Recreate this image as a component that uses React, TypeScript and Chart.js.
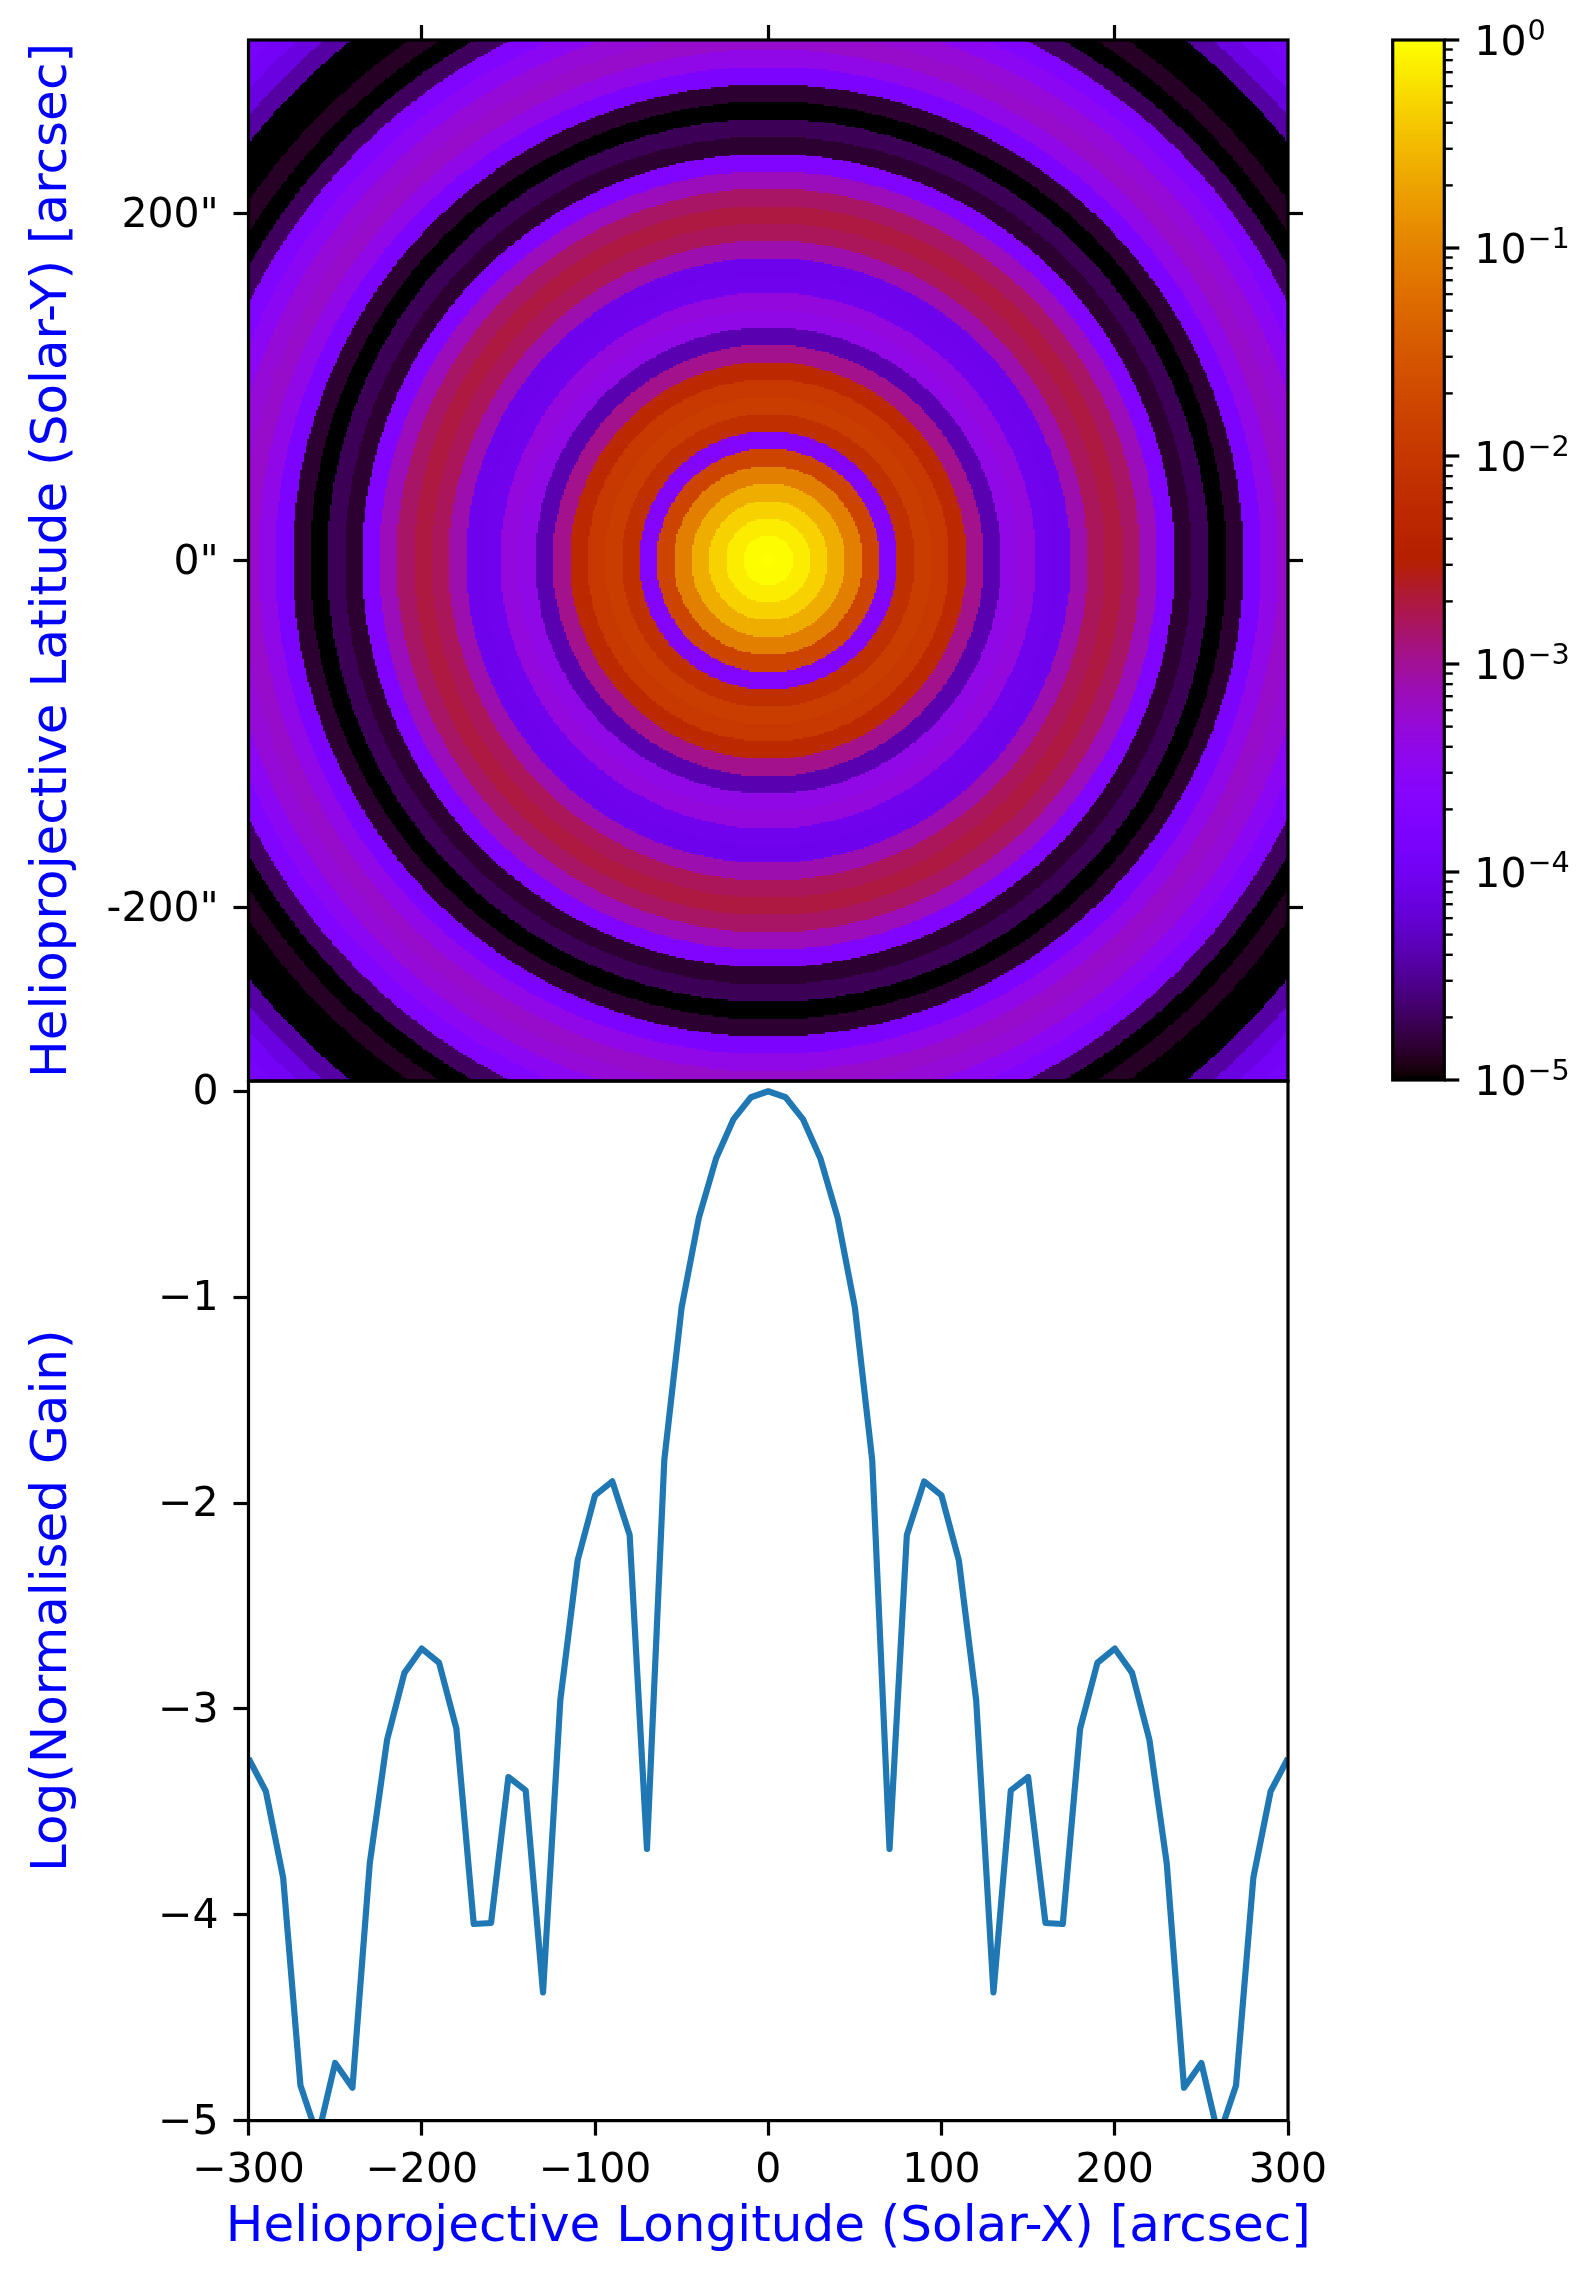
import React, { useEffect, useRef } from "react";
import { Chart, registerables } from "chart.js";

Chart.register(...registerables);

const longitudes = [
  -300, -290, -280, -270, -260, -250, -240, -230, -220, -210, -200, -190, -180, -170, -160, -150, -140, -130, -120, -110,
  -100, -90, -80, -70, -60, -50, -40, -30, -20, -10, 0, 10, 20, 30, 40, 50, 60, 70, 80, 90, 100, 110, 120, 130, 140, 150,
  160, 170, 180, 190, 200, 210, 220, 230, 240, 250, 260, 270, 280, 290, 300,
];
const logGain = [
  -3.24, -3.4, -3.82, -4.83, -5.08, -4.72, -4.84, -3.75, -3.15, -2.825, -2.707, -2.776, -3.096, -4.045, -4.04, -3.331,
  -3.396, -4.377, -2.956, -2.278, -1.963, -1.895, -2.155, -3.68, -1.79, -1.05, -0.612, -0.324, -0.135, -0.029, 0, -0.029,
  -0.135, -0.324, -0.612, -1.05, -1.79, -3.68, -2.155, -1.895, -1.963, -2.278, -2.956, -4.377, -3.396, -3.331, -4.04,
  -4.045, -3.096, -2.776, -2.707, -2.825, -3.15, -3.75, -4.84, -4.72, -5.08, -4.83, -3.82, -3.4, -3.24,
];
const logGainBeyond = [-3.3, -3.5, -3.75, -4.695, -5.1, -4.865, -5.2, -5.3, -4.44, -4.135, -3.95, -3.9, -3.9];
const ringStep = 10;

const mapTicks = [-200, 0, 200];
const mapTickLabels = ['-200"', '0"', '200"'];
const lowerXTicks = [-300, -200, -100, 0, 100, 200, 300];
const lowerYTicks = [-5, -4, -3, -2, -1, 0];
const barExponents = [-5, -4, -3, -2, -1, 0];
const barMinorFactors = [2, 3, 4, 5, 6, 7, 8, 9];

const xTitle = "Helioprojective Longitude (Solar-X) [arcsec]";
const yTitleMap = "Helioprojective Latitude (Solar-Y) [arcsec]";
const yTitleProfile = "Log(Normalised Gain)";

const W = 1590;
const H = 2269;
const FONT = "'DejaVu Sans'";
const TICK_FONT = 41;
const SUP_FONT = 28.7;
const TITLE_FONT = 50;
const LW = 3.2;
const TICK_LEN = 15;
const BLUE = "#0000ff";

const LEFT = 248.5;
const RIGHT = 1288;
const TOP = 40;
const MID = 1081;
const BOTTOM = 2120.6;
const BAR_LEFT = 1392.7;
const BAR_RIGHT = 1444.3;
const BAR_BOTTOM = 1080;
const X_TITLE_Y = 2228;

function gnuplot(t: number): [number, number, number] {
  const x = Math.max(0, Math.min(255, Math.floor(t * 256))) / 255;
  const r = Math.sqrt(x);
  const g = x * x * x;
  const b = Math.max(0, Math.sin(2 * Math.PI * x));
  return [Math.round(r * 255), Math.round(g * 255), Math.round(b * 255)];
}
const cssColor = (t: number) => {
  const [r, g, b] = gnuplot(t);
  return `rgb(${r},${g},${b})`;
};

const radialProfile = [...logGain.slice(30), ...logGainBeyond];
const ringColors = radialProfile.map((v) => cssColor((v + 5) / 5));

const frame = {
  id: "frame",
  afterDraw(chart: any) {
    const { left, right, top, bottom } = chart.chartArea;
    const c = chart.ctx;
    c.save();
    c.strokeStyle = "#000";
    c.lineWidth = LW;
    c.strokeRect(left, top, right - left, bottom - top);
    c.restore();
  },
};

// The axis title option would squeeze this text to the axis width, but it is wider than the axis.
const wideXTitle = {
  id: "wideXTitle",
  afterDraw(chart: any) {
    const { left, right } = chart.chartArea;
    const c = chart.ctx;
    c.save();
    c.fillStyle = BLUE;
    c.font = `${TITLE_FONT}px ${FONT}`;
    c.textAlign = "center";
    c.textBaseline = "middle";
    c.fillText(xTitle, (left + right) / 2, X_TITLE_Y);
    c.restore();
  },
};

// Nudges the left axis labels down a little, as matplotlib centres them lower than a canvas does.
const labelNudge = {
  id: "labelNudge",
  beforeDraw(chart: any) {
    const items = chart.scales.y.getLabelItems();
    for (const it of items) {
      if (!it.nudged) {
        it.textOffset += 2.5;
        it.nudged = true;
      }
    }
  },
};

const heatMap = {
  id: "heatMap",
  beforeDatasetsDraw(chart: any) {
    const c = chart.ctx;
    const sx = chart.scales.x;
    const sy = chart.scales.y;
    c.save();
    const { left, right, top, bottom } = chart.chartArea;
    c.beginPath();
    c.rect(left, top, right - left, bottom - top);
    c.clip();
    const cell = 1;
    for (let v = -300; v < 300; v += cell) {
      const py0 = Math.round(sy.getPixelForValue(v + cell));
      const py1 = Math.round(sy.getPixelForValue(v));
      let runStart = -300;
      let runBin = -1;
      for (let u = -300; u <= 300; u += cell) {
        const xc = u + cell / 2;
        const yc = v + cell / 2;
        const bin = u === 300 ? -2 : Math.round((Math.hypot(xc, yc) + 0.5) / ringStep);
        if (bin !== runBin) {
          if (runBin >= 0) {
            const px0 = Math.round(sx.getPixelForValue(runStart));
            const px1 = Math.round(sx.getPixelForValue(u));
            c.fillStyle = ringColors[Math.min(runBin, ringColors.length - 1)];
            c.fillRect(px0, py0, px1 - px0, py1 - py0);
          }
          runStart = u;
          runBin = bin;
        }
      }
    }
    c.restore();
  },
};

const colorRamp = {
  id: "colorRamp",
  beforeDatasetsDraw(chart: any) {
    const c = chart.ctx;
    const sy = chart.scales.y;
    const { left, right } = chart.chartArea;
    c.save();
    for (let i = 0; i < 256; i++) {
      const y0 = sy.getPixelForValue(Math.pow(10, -5 + (5 * i) / 256));
      const y1 = sy.getPixelForValue(Math.pow(10, -5 + (5 * (i + 1)) / 256));
      c.fillStyle = cssColor((i + 0.5) / 256);
      c.fillRect(left, y1 - 0.5, right - left, y0 - y1 + 1);
    }
    c.restore();
  },
  afterDraw(chart: any) {
    const c = chart.ctx;
    const sy = chart.scales.y;
    const { right } = chart.chartArea;
    c.save();
    c.strokeStyle = "#000";
    for (const t of sy.ticks) {
      const y = sy.getPixelForValue(t.value);
      c.lineWidth = t.major ? LW : 2.4;
      c.beginPath();
      c.moveTo(right, y);
      c.lineTo(right + (t.major ? TICK_LEN : 8.5), y);
      c.stroke();
      if (t.major) {
        // mathtext-style power of ten: the base and a raised, smaller exponent.
        c.fillStyle = "#000";
        c.textAlign = "left";
        c.textBaseline = "alphabetic";
        const lx = right + 30;
        c.font = `${TICK_FONT}px ${FONT}`;
        c.fillText("10", lx, y + 15);
        const adv = c.measureText("10").width;
        c.font = `${SUP_FONT}px ${FONT}`;
        c.fillText(String(t.exponent).replace("-", "\u2212"), lx + adv + 1, y - 0.5);
      }
    }
    c.restore();
  },
};

const tickGrid = {
  display: true,
  drawOnChartArea: false,
  drawTicks: true,
  tickLength: TICK_LEN,
  tickWidth: LW,
  tickColor: "#000",
};
const tickFont = { family: FONT, size: TICK_FONT };
const titleFont = { family: FONT, size: TITLE_FONT };
const setTicks = (vals: number[]) => (s: any) => {
  s.ticks = vals.map((value) => ({ value }));
};

export default function App() {
  const a = useRef<HTMLCanvasElement>(null);
  const b = useRef<HTMLCanvasElement>(null);
  const cb = useRef<HTMLCanvasElement>(null);

  useEffect(() => {
    const base = { responsive: false, animation: false as const, devicePixelRatio: 1 };
    const noPlugins = { legend: { display: false }, tooltip: { enabled: false }, title: { display: false } };

    const map = new Chart(a.current!, {
      type: "scatter",
      data: { datasets: [] },
      plugins: [heatMap, frame, labelNudge],
      options: {
        ...base,
        plugins: noPlugins,
        layout: { padding: { left: 0, right: 0, top: 0, bottom: H - MID } },
        scales: {
          x: {
            type: "linear",
            position: "top",
            min: -300,
            max: 300,
            afterBuildTicks: setTicks(mapTicks),
            afterFit: (s: any) => { s.height = TOP; },
            grid: tickGrid,
            border: { display: false },
            ticks: { display: false, autoSkip: false },
          },
          y: {
            type: "linear",
            position: "left",
            min: -300,
            max: 300,
            afterBuildTicks: setTicks(mapTicks),
            afterFit: (s: any) => { s.width = LEFT; },
            grid: tickGrid,
            border: { display: false },
            ticks: {
              autoSkip: false,
              color: "#000",
              padding: 15,
              font: tickFont,
              callback: (v: any) => mapTickLabels[mapTicks.indexOf(Number(v))],
            },
            title: { display: true, text: yTitleMap, color: BLUE, font: titleFont, padding: { top: 23, bottom: 0 } },
          },
          y2: {
            type: "linear",
            position: "right",
            min: -300,
            max: 300,
            afterBuildTicks: setTicks(mapTicks),
            afterFit: (s: any) => { s.width = W - RIGHT; },
            grid: tickGrid,
            border: { display: false },
            ticks: { display: false, autoSkip: false },
          },
        },
      } as any,
    });

    const profile = new Chart(b.current!, {
      type: "line",
      data: {
        datasets: [
          {
            data: longitudes.map((x, i) => ({ x, y: logGain[i] })),
            borderColor: "#1f77b4",
            borderWidth: 6.2,
            pointRadius: 0,
            tension: 0,
            fill: false,
            clip: 0,
            borderJoinStyle: "round",
          },
        ],
      },
      plugins: [frame, labelNudge, wideXTitle],
      options: {
        ...base,
        plugins: noPlugins,
        layout: { padding: { left: 0, right: W - RIGHT, top: MID, bottom: 0 } },
        scales: {
          x: {
            type: "linear",
            min: -300,
            max: 300,
            afterBuildTicks: setTicks(lowerXTicks),
            afterFit: (s: any) => { s.height = H - BOTTOM; },
            grid: tickGrid,
            border: { display: false },
            ticks: {
              autoSkip: false,
              maxRotation: 0,
              color: "#000",
              padding: 11,
              font: tickFont,
              callback: (v: any) => String(v).replace("-", "\u2212"),
            },
          },
          y: {
            type: "linear",
            min: -5,
            max: 0.05,
            afterBuildTicks: setTicks(lowerYTicks),
            afterFit: (s: any) => { s.width = LEFT; },
            grid: tickGrid,
            border: { display: false },
            ticks: {
              autoSkip: false,
              color: "#000",
              padding: 15,
              font: tickFont,
              callback: (v: any) => String(v).replace("-", "\u2212"),
            },
            title: { display: true, text: yTitleProfile, color: BLUE, font: titleFont, padding: { top: 23, bottom: 0 } },
          },
        },
      } as any,
    });

    const bar = new Chart(cb.current!, {
      type: "scatter",
      data: { datasets: [] },
      plugins: [colorRamp, frame],
      options: {
        ...base,
        plugins: noPlugins,
        layout: { padding: { left: BAR_LEFT, right: 0, top: 0, bottom: H - BAR_BOTTOM } },
        scales: {
          x: {
            type: "linear",
            position: "top",
            min: 0,
            max: 1,
            afterFit: (s: any) => { s.height = TOP; },
            grid: { display: false, drawTicks: false },
            border: { display: false },
            ticks: { display: false },
          },
          y: {
            type: "logarithmic",
            position: "right",
            min: 1e-5,
            max: 1,
            afterBuildTicks: (s: any) => {
              const ticks: any[] = [];
              for (const e of barExponents) {
                ticks.push({ value: Math.pow(10, e), major: true, exponent: e });
                if (e < 0) for (const f of barMinorFactors) ticks.push({ value: f * Math.pow(10, e), major: false });
              }
              s.ticks = ticks;
            },
            afterFit: (s: any) => { s.width = W - BAR_RIGHT; },
            grid: { display: false, drawTicks: false },
            border: { display: false },
            ticks: { display: false },
          },
        },
      } as any,
    });

    return () => {
      map.destroy();
      profile.destroy();
      bar.destroy();
    };
  }, []);

  const style: React.CSSProperties = { position: "absolute", left: 0, top: 0, width: W, height: H };
  return (
    <div style={{ position: "absolute", left: 0, top: 0, width: W, height: H, background: "#fff", overflow: "hidden" }}>
      <canvas ref={a} width={W} height={H} style={style} />
      <canvas ref={b} width={W} height={H} style={style} />
      <canvas ref={cb} width={W} height={H} style={style} />
    </div>
  );
}
